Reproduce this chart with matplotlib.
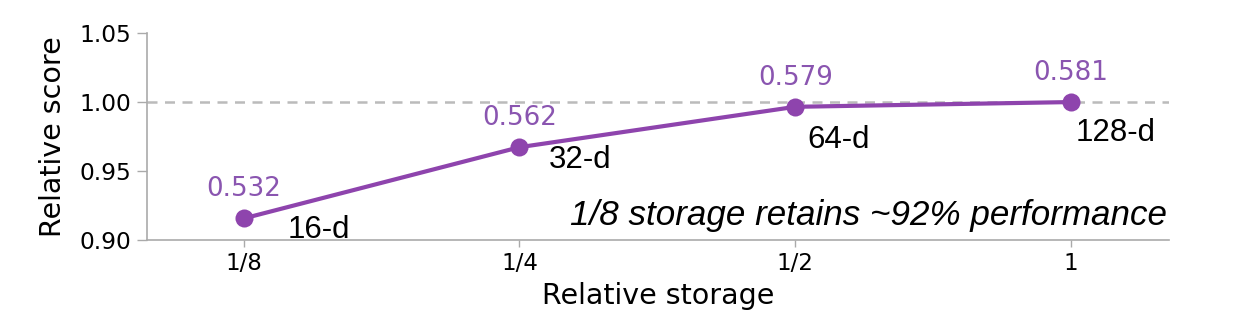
import matplotlib
matplotlib.use("Agg")
import matplotlib.pyplot as plt

# data
storage_labels = ["1/8", "1/4", "1/2", "1"]
dims = ["16-d", "32-d", "64-d", "128-d"]
raw_scores = [0.532, 0.562, 0.579, 0.581]
y_ticks = [0.90, 0.95, 1.00, 1.05]

PURPLE = "#8e44ad"
GREY = "#aaaaaa"

rel = [s / raw_scores[-1] for s in raw_scores]
xs = list(range(len(storage_labels)))

fig = plt.figure(figsize=(12.55, 3.24), dpi=100)
ax = fig.add_axes([0.117, 0.259, 0.8145, 0.639])

ax.axhline(1.0, color="#bbbbbb", linewidth=1.8, dashes=(4, 3), zorder=1)
ax.plot(xs, rel, color=PURPLE, linewidth=3.0, marker="o", markersize=13,
        markeredgewidth=0, zorder=3)

# value labels above points
for x, y, s in zip(xs, rel, raw_scores):
    ax.annotate(f"{s:.3f}", (x, y), xytext=(0, 21), textcoords="offset points",
                ha="center", va="center", fontsize=18.8, color="#8a55b0")

# dimension labels (offsets in pt)
dim_offsets = [(32, -8), (21, -9), (9, -24), (3, -22)]
for x, y, d, (dx, dy) in zip(xs, rel, dims, dim_offsets):
    ax.annotate(d, (x, y), xytext=(dx, dy), textcoords="offset points",
                ha="left", va="center", fontsize=22.5, color="black",
                family="Liberation Sans")

ax.text(0.998, 0.04, "1/8 storage retains ~92% performance", transform=ax.transAxes,
        ha="right", va="bottom", fontsize=25.2, style="italic", family="Liberation Sans")

ax.set_xlim(-0.351, 3.355)
ax.set_ylim(0.90, 1.05)
ax.set_xticks(xs)
ax.set_xticklabels(storage_labels)
ax.set_yticks(y_ticks)
ax.set_yticklabels([f"{v:.2f}" for v in y_ticks])
ax.tick_params(axis="x", labelsize=16.5, colors=GREY, labelcolor="black", length=5, width=1)
ax.tick_params(axis="y", labelsize=16.8, colors=GREY, labelcolor="black", length=7, width=1, pad=4)
ax.set_xlabel("Relative storage", fontsize=20.5, labelpad=5)
ax.set_ylabel("Relative score", fontsize=20.5, labelpad=9)

for side in ("top", "right"):
    ax.spines[side].set_visible(False)
for side in ("left", "bottom"):
    ax.spines[side].set_color(GREY)
    ax.spines[side].set_linewidth(1.2)

fig.savefig("out.png", dpi=100, facecolor="white")
